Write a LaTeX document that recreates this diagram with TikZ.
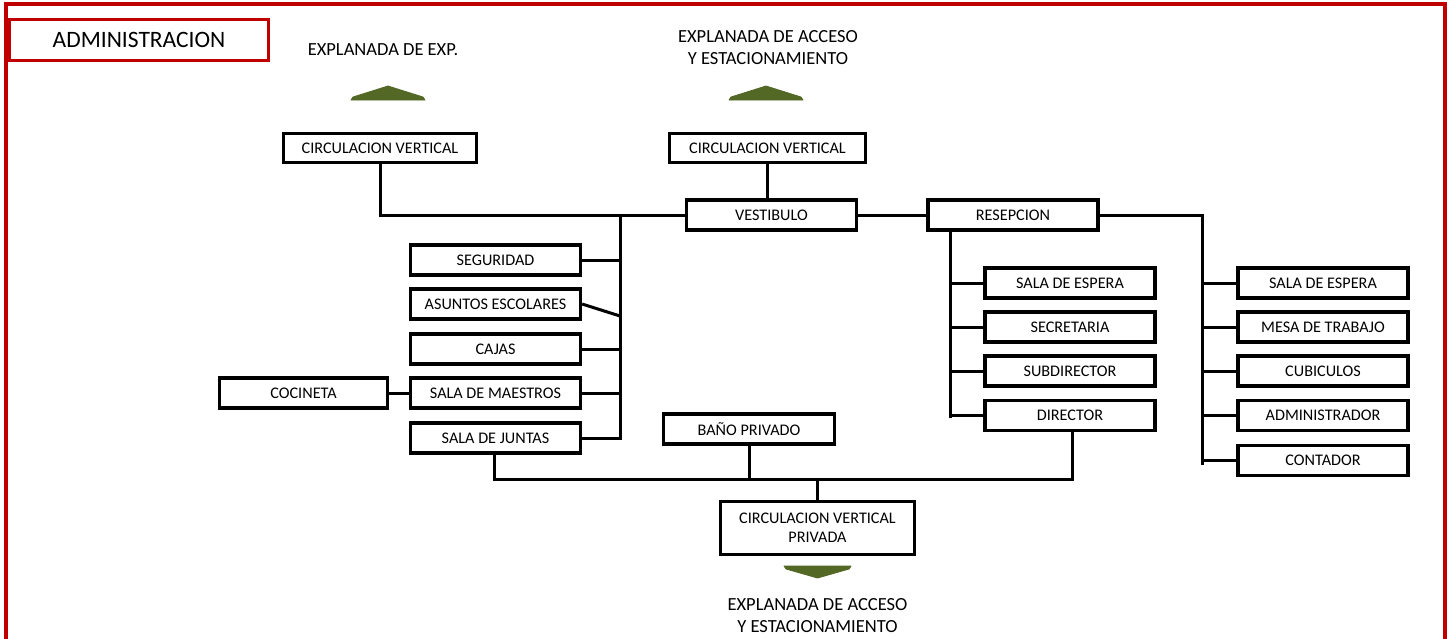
\documentclass[tikz,border=0pt]{standalone}
\usepackage{fontspec}
\setmainfont{Carlito}
\definecolor{framered}{RGB}{192,0,0}
\definecolor{olivefill}{RGB}{84,104,38}
\begin{document}
\begin{tikzpicture}[x=1pt,y=-1pt,
  bx/.style={draw=black,line width=3.2pt,inner sep=0pt,align=center,
    font=\fontsize{16.2}{19}\selectfont,minimum height=30pt,minimum width=170pt},
  ln/.style={line width=3pt},
  lbl/.style={font=\fontsize{18.5}{22}\selectfont,align=center,inner sep=0pt},
  tri/.style={fill=olivefill,draw=olivefill,line width=0.8pt,line join=round}]
\useasboundingbox (0,0) rectangle (1450,638);
\fill[white] (0,0) rectangle (1450,638);
% frame
\draw[framered,line width=3.8pt] (6,645) -- (6,4) -- (1445,4) -- (1445,645);
\node[draw=framered,line width=3.8pt,minimum width=259pt,minimum height=41pt,inner sep=0pt,
  font=\fontsize{23.5}{27}\selectfont] (adm) at (139,40) {ADMINISTRACION};
% top labels and arrows
\node[lbl] (exp1) at (383,50) {EXPLANADA DE EXP.};
\node[lbl] (exp2) at (768,48) {EXPLANADA DE ACCESO\\Y ESTACIONAMIENTO};
\fill[tri] (351,100) -- (353,97) -- (388,86) -- (423,97) -- (425,100) -- cycle;
\fill[tri] (729,100) -- (731,97) -- (766,86) -- (801,97) -- (803,100) -- cycle;
% top boxes
\node[bx,minimum width=193pt,minimum height=29pt] (cvl) at (380,148) {CIRCULACION VERTICAL};
\node[bx,minimum width=196pt,minimum height=29pt] (cvc) at (767.5,148) {CIRCULACION VERTICAL};
\node[bx] (vest) at (771.5,215) {VESTIBULO};
\node[bx] (res) at (1013,215) {RESEPCION};
% left column
\node[bx] (seg) at (495.5,260) {SEGURIDAD};
\node[bx] (ase) at (495.5,304) {ASUNTOS ESCOLARES};
\node[bx] (caj) at (495.5,349) {CAJAS};
\node[bx] (mae) at (495.5,393) {SALA DE MAESTROS};
\node[bx] (jun) at (495.5,438) {SALA DE JUNTAS};
\node[bx,minimum width=168pt] (coc) at (303.5,393) {COCINETA};
% middle right column
\node[bx] (esp1) at (1070,283) {SALA DE ESPERA};
\node[bx] (sec) at (1070,327) {SECRETARIA};
\node[bx] (sub) at (1070,371) {SUBDIRECTOR};
\node[bx] (dir) at (1070,415.5) {DIRECTOR};
% right column
\node[bx] (esp2) at (1323,283) {SALA DE ESPERA};
\node[bx] (mes) at (1323,327) {MESA DE TRABAJO};
\node[bx] (cub) at (1323,371) {CUBICULOS};
\node[bx] (admr) at (1323,415.5) {ADMINISTRADOR};
\node[bx] (con) at (1323,460.5) {CONTADOR};
% bottom
\node[bx,minimum width=171pt] (ban) at (749,429) {BAÑO PRIVADO};
\node[bx,minimum width=194pt,minimum height=53pt] (cvp) at (817.5,528) {CIRCULACION VERTICAL\\PRIVADA};
\fill[tri] (784,566) -- (851,566) -- (849,569) -- (817.5,578) -- (786,569) -- cycle;
\node[lbl] (exp3) at (817.5,616) {EXPLANADA DE ACCESO\\Y ESTACIONAMIENTO};
% coordinates
\coordinate (lt) at (620,215);
\coordinate (lb) at (620,439.5);
\coordinate (asj) at (620,316);
\coordinate (rt) at (950,215);
\coordinate (rb) at (950,418);
\coordinate (qt) at (1202,215);
\coordinate (qb) at (1202,465);
\coordinate (bl) at (494,479);
\coordinate (br) at (1072,479);
% connectors
\draw[ln] (cvl.south) |- (vest.west);
\draw[ln] (cvc.south) -- (cvc.south |- vest.north);
\draw[ln] (vest.east) -- (res.west);
\draw[ln] (lt) -- (lb);
\draw[ln] (seg.east) -- (seg.east -| lt);
\draw[ln] (ase.east) -- (asj);
\draw[ln] (caj.east) -- (caj.east -| lt);
\draw[ln] (mae.east) -- (mae.east -| lt);
\draw[ln] (jun.east) -- (jun.east -| lt);
\draw[ln] (coc.east) -- (mae.west);
\draw[ln] (res.south -| rt) -- (rb);
\draw[ln] (rt |- esp1.west) -- (esp1.west);
\draw[ln] (rt |- sec.west) -- (sec.west);
\draw[ln] (rt |- sub.west) -- (sub.west);
\draw[ln] (rt |- dir.west) -- (dir.west);
\draw[ln] (res.east) -- (qt) -- (qb);
\draw[ln] (qt |- esp2.west) -- (esp2.west);
\draw[ln] (qt |- mes.west) -- (mes.west);
\draw[ln] (qt |- cub.west) -- (cub.west);
\draw[ln] (qt |- admr.west) -- (admr.west);
\draw[ln] (qt |- con.west) -- (con.west);
\draw[ln] (jun.south -| bl) -- (bl) -- (br) -- (br |- dir.south);
\draw[ln] (ban.south) -- (ban.south |- bl);
\draw[ln] (cvp.north) -- (cvp.north |- bl);
\end{tikzpicture}
\end{document}
